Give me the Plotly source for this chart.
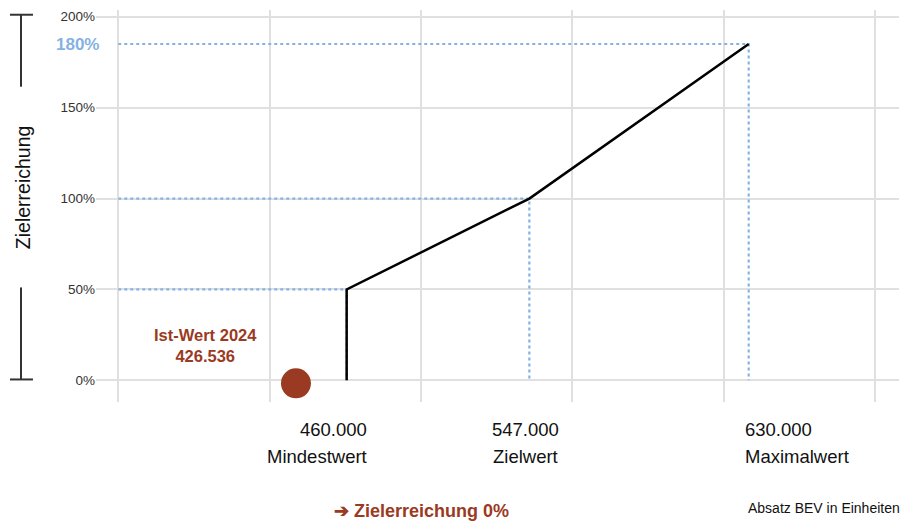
import plotly.graph_objects as go

# Milestones (x positions are the chart's own slot positions, not linear in units)
milestone_names = ["Mindestwert", "Zielwert", "Maximalwert"]
milestone_values = ["460.000", "547.000", "630.000"]
milestone_pos = [1.509, 2.716, 4.165]
achievement = [50, 100, 185]
achievement_labels = ["50%", "100%", "180%"]

# Actual value 2024
ist_label = "Ist-Wert 2024"
ist_value = "426.536"
ist_pos = 1.174
ist_achievement = -1.6

y_ticks = [0, 50, 100, 150, 200]
y_ticktext = ["0%", "50%", "100%", "150%", "200%"]
x_grid = [0, 1, 2, 3, 4, 5]

FONT = "Liberation Sans, Arial, sans-serif"
RED = "#9B3A22"
BLUE = "#85B2E3"

fig = go.Figure()

# dotted guide lines to each milestone
for px, py in zip(milestone_pos, achievement):
    fig.add_trace(go.Scatter(
        x=[x_grid[0], px, px], y=[py, py, 0], mode="lines",
        line=dict(color=BLUE, width=2.2, dash="dot"),
        hoverinfo="skip", showlegend=False,
    ))

# achievement curve
fig.add_trace(go.Scatter(
    x=[milestone_pos[0]] + milestone_pos,
    y=[0] + achievement,
    mode="lines",
    line=dict(color="black", width=2.5),
    showlegend=False,
))

# actual value marker
fig.add_trace(go.Scatter(
    x=[ist_pos], y=[ist_achievement], mode="markers",
    marker=dict(color=RED, size=30),
    showlegend=False,
))

annotations = []
# x labels: first right-aligned, middle centered, last left-aligned
anchors = ["right", "center", "left"]
shifts = [22, -4, -6]
for name, val, px, anc, sh in zip(milestone_names, milestone_values, milestone_pos, anchors, shifts):
    annotations.append(dict(x=px, y=-0.0689, xref="x", yref="paper", text=val,
                            showarrow=False, xanchor=anc, yanchor="middle", xshift=sh,
                            font=dict(size=18.5, color="#111", family=FONT)))
    annotations.append(dict(x=px, y=-0.1378, xref="x", yref="paper", text=name,
                            showarrow=False, xanchor=anc, yanchor="middle", xshift=sh,
                            font=dict(size=18.5, color="#111", family=FONT)))

# 180% label on y axis
annotations.append(dict(x=0, y=achievement[-1], xref="paper", yref="y",
                        text="<b>" + achievement_labels[-1] + "</b>", showarrow=False,
                        xanchor="right", yanchor="middle", xshift=5,
                        font=dict(size=17, color=BLUE, family=FONT)))

# Ist-Wert label
annotations.append(dict(x=ist_pos - 0.6, y=19.3, xref="x", yref="y",
                        text="<b>" + ist_label + "</b><br><b>" + ist_value + "</b>",
                        showarrow=False, xanchor="center", yanchor="middle",
                        font=dict(size=16.5, color=RED, family=FONT)))

# y axis title
annotations.append(dict(x=-0.0909, y=0.548, xref="paper", yref="paper",
                        text="Zielerreichung", textangle=-90, showarrow=False,
                        xanchor="center", yanchor="middle",
                        font=dict(size=19.5, color="#111", family=FONT)))

# footer texts
annotations.append(dict(x=0.405, y=-0.278, xref="paper", yref="paper",
                        text="<b>\u2794 Zielerreichung 0%</b>", showarrow=False,
                        xanchor="center", yanchor="middle",
                        font=dict(size=18, color=RED, family=FONT)))
annotations.append(dict(x=1.004, y=-0.270, xref="paper", yref="paper",
                        text="Absatz BEV in Einheiten", showarrow=False,
                        xanchor="right", yanchor="middle",
                        font=dict(size=14, color="#111", family=FONT)))

# bracket marks beside the y title
bracket = dict(color="#333", width=2)
shapes = [
    dict(type="line", xref="paper", yref="y", x0=-0.0934, x1=-0.0934, y0=201.1, y1=161.5, line=bracket),
    dict(type="line", xref="paper", yref="y", x0=-0.1071, x1=-0.0785, y0=201.1, y1=201.1, line=bracket),
    dict(type="line", xref="paper", yref="y", x0=-0.0934, x1=-0.0934, y0=51.1, y1=0.5, line=bracket),
    dict(type="line", xref="paper", yref="y", x0=-0.1071, x1=-0.0785, y0=0.5, y1=0.5, line=bracket),
]

fig.update_layout(
    width=902, height=523,
    margin=dict(l=96, r=3, t=10, b=121),
    paper_bgcolor="white", plot_bgcolor="white",
    font=dict(family=FONT, color="#333"),
    xaxis=dict(range=[-0.147, 5.158], tickvals=x_grid, showticklabels=False,
               showgrid=True, gridcolor="#E0E0E0", gridwidth=1.5,
               zeroline=False, showline=False, fixedrange=True),
    yaxis=dict(range=[-11.9, 203.7], tickvals=y_ticks, ticktext=y_ticktext,
               showgrid=True, gridcolor="#E0E0E0", gridwidth=1.5,
               zeroline=False, showline=False, ticks="",
               tickfont=dict(size=13.5, color="#333", family=FONT), fixedrange=True),
    annotations=annotations,
    shapes=shapes,
    showlegend=False,
)

fig.write_html("out.html", config=dict(displayModeBar=False),
               post_script="document.body.style.margin='0';")
